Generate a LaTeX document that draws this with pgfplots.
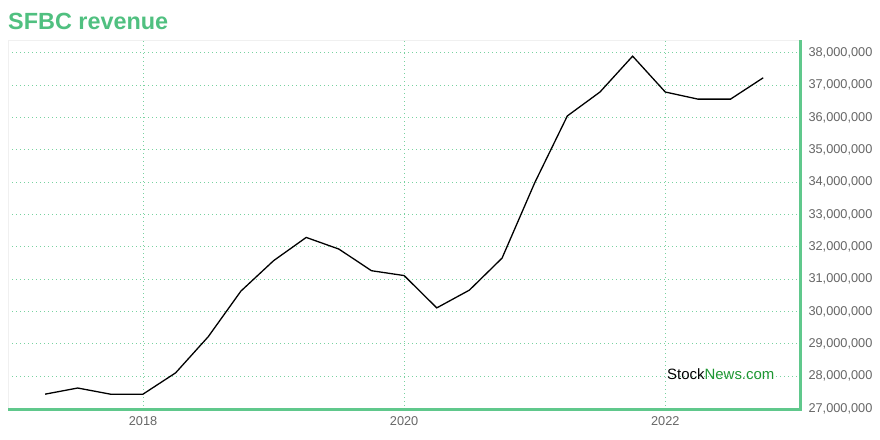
\documentclass[border=0pt]{standalone}
\usepackage{pgfplots}
\pgfplotsset{compat=1.18}
\usepackage{fontspec}
\setmainfont{Liberation Sans}
\definecolor{titlegreen}{RGB}{80,192,128}
\definecolor{axisgreen}{RGB}{96,200,140}
\definecolor{gridgreen}{RGB}{120,210,160}
\definecolor{ticklab}{RGB}{102,102,102}
\definecolor{wmgreen}{RGB}{30,150,50}
\begin{document}
\begin{tikzpicture}[x=1bp,y=1bp]
\path[use as bounding box] (0,0) rectangle (880,440);
\node[anchor=base west, inner sep=0pt, text=titlegreen, font=\fontsize{23.5}{23.5}\selectfont\bfseries] at (8,410) {SFBC revenue};
\begin{axis}[
  at={(8bp,30bp)}, anchor=south west,
  scale only axis, width=792bp, height=370bp,
  xmin=2016.966, xmax=2023.032,
  ymin=26950000, ymax=38400000,
  xtick={2018,2020,2022},
  xticklabels={2018,2020,2022},
  ytick={27000000,28000000,29000000,30000000,31000000,32000000,33000000,34000000,35000000,36000000,37000000,38000000},
  yticklabels={{27,000,000},{28,000,000},{29,000,000},{30,000,000},{31,000,000},{32,000,000},{33,000,000},{34,000,000},{35,000,000},{36,000,000},{37,000,000},{38,000,000}},
  scaled y ticks=false,
  yticklabel pos=right,
  major tick length=0pt,
  ticklabel style={text=ticklab, font=\fontsize{12.8}{12.8}\selectfont},
  yticklabel style={anchor=west, xshift=5bp},
  xticklabel style={yshift=-3bp},
  grid=major,
  major grid style={gridgreen, line width=1bp, dash pattern=on 1bp off 3bp},
  axis line style={draw=black!6, line width=0.8bp},
  clip=false,
]
\addplot[black, line width=1.3bp, mark=none] table {
2017.25 27440000
2017.50 27630000
2017.75 27440000
2018.00 27440000
2018.25 28100000
2018.50 29220000
2018.75 30630000
2019.00 31570000
2019.25 32290000
2019.50 31930000
2019.75 31260000
2020.00 31110000
2020.25 30110000
2020.50 30660000
2020.75 31650000
2021.00 33980000
2021.25 36050000
2021.50 36790000
2021.75 37900000
2022.00 36790000
2022.25 36570000
2022.50 36570000
2022.75 37230000
};
\draw[axisgreen, line width=3bp] (rel axis cs:0,0) -- (rel axis cs:1,0) -- (rel axis cs:1,1);
\node[font=\fontsize{15}{15}\selectfont, inner sep=0pt] at (rel axis cs:0.90,0.097) {Stock\textcolor{wmgreen}{News.com}};
\end{axis}
\end{tikzpicture}
\end{document}
